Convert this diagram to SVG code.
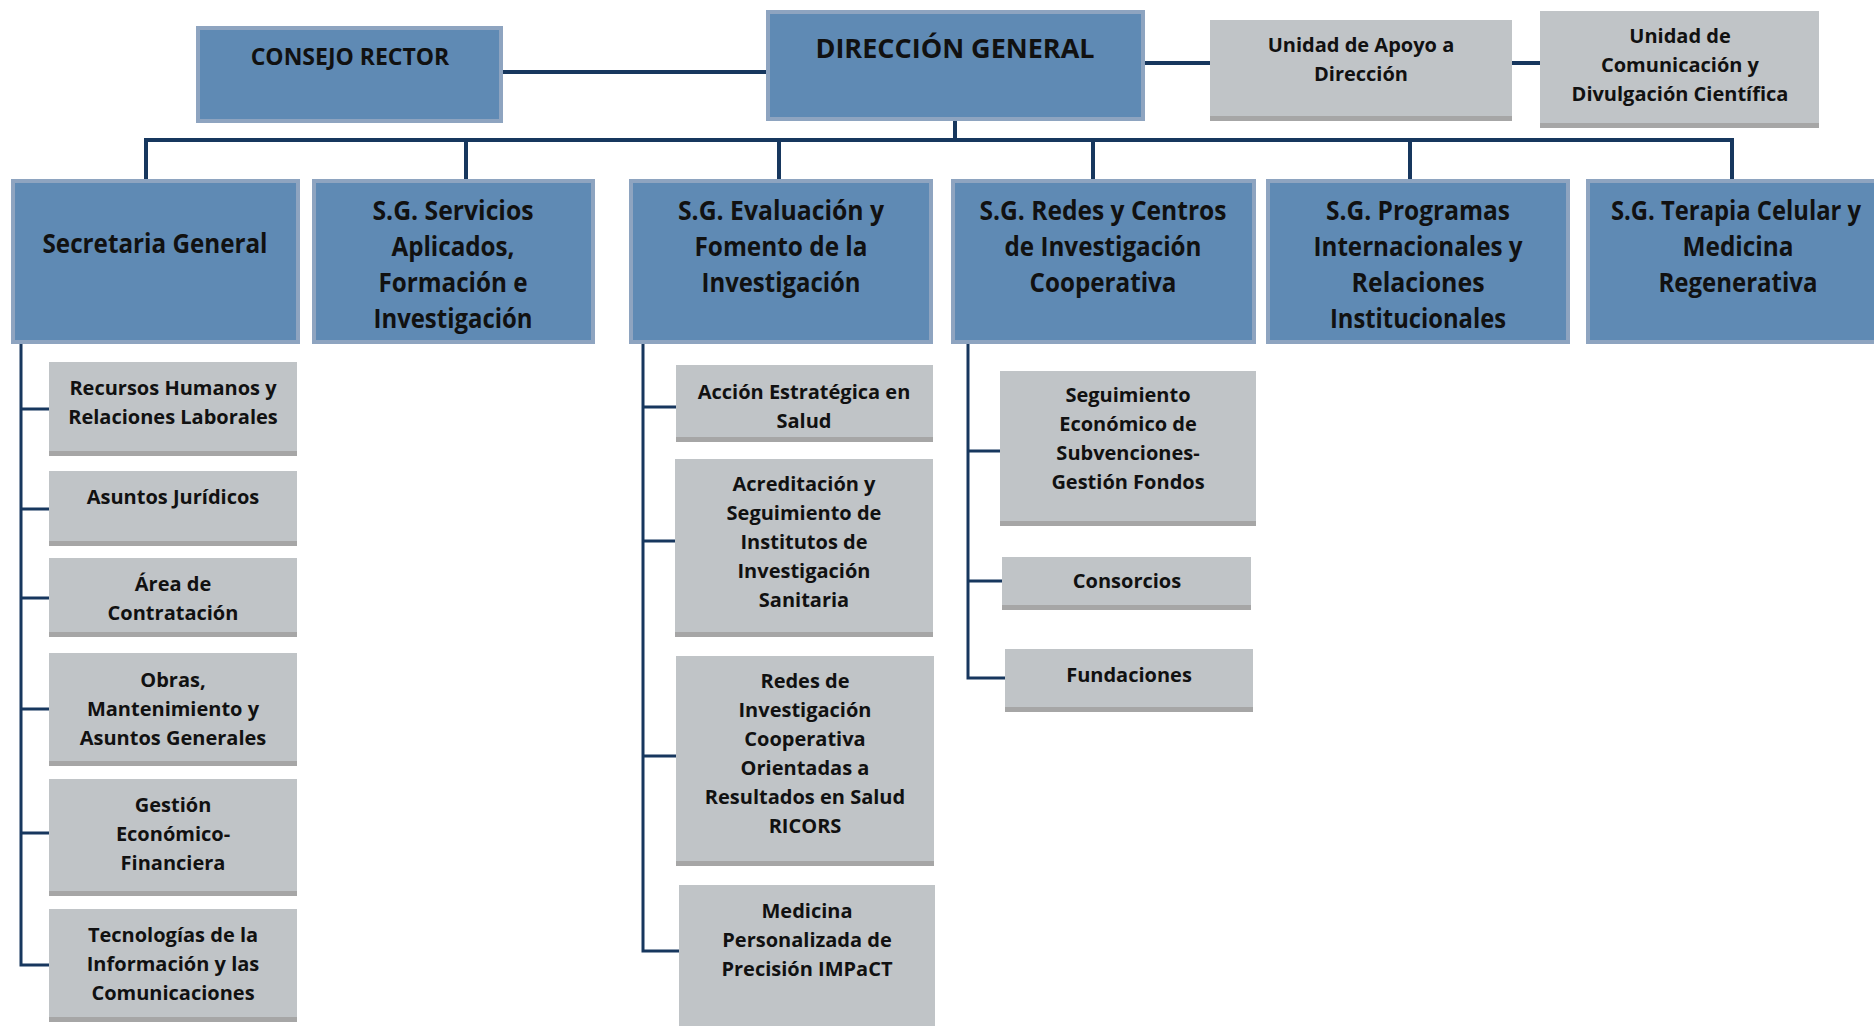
<svg xmlns="http://www.w3.org/2000/svg" width="1874" height="1026" viewBox="0 0 1874 1026">
<style>
.b{fill:#5f8ab4;stroke:#8ea4c0;stroke-width:4}
.g{fill:#c0c4c7}
.gs{fill:#a6a6a6}
.ln{stroke:#17375e;stroke-width:4;fill:none}
.ls{stroke:#17375e;stroke-width:3;fill:none}
text{font-family:"Open Sans","Liberation Sans",sans-serif;font-weight:700;fill:#111;text-anchor:middle}
.h{font-size:26.5px}
.s{font-size:20px}
</style>
<rect width="1874" height="1026" fill="#fff"/>
<g id="connectors">
<path class="ln" d="M503 72H766"/>
<path class="ln" d="M1145 63H1210"/>
<path class="ln" d="M1512 63H1540"/>
<path class="ln" d="M955 121V140"/>
<path class="ln" d="M146 179V140H1732V179"/>
<path class="ln" d="M466 140V179"/>
<path class="ln" d="M779 140V179"/>
<path class="ln" d="M1093 140V179"/>
<path class="ln" d="M1410 140V179"/>
<path class="ls" d="M21 344V965H49"/>
<path class="ls" d="M21 409H49M21 509H49M21 598H49M21 709H49M21 833H49"/>
<path class="ls" d="M643 344V951H679"/>
<path class="ls" d="M643 407H676M643 541H675M643 756H676"/>
<path class="ls" d="M968 344V678H1005"/>
<path class="ls" d="M968 451H1000M968 581H1002"/>
</g>
<g id="consejo-rector"><rect class="b" x="198" y="28" width="303" height="93"/><text x="350" y="65" style="font-size:23px">CONSEJO RECTOR</text></g>
<g id="direccion-general"><rect class="b" x="768" y="12" width="375" height="107"/><text x="955" y="58" style="font-size:27px">DIRECCIÓN GENERAL</text></g>
<g id="unidad-apoyo"><rect class="g" x="1210" y="20" width="302" height="101"/><rect class="gs" x="1210" y="116" width="302" height="5"/><text class="s" x="1361" y="52">Unidad de Apoyo a</text><text class="s" x="1361" y="81">Dirección</text></g>
<g id="unidad-comunicacion"><rect class="g" x="1540" y="11" width="279" height="117"/><rect class="gs" x="1540" y="123" width="279" height="5"/><text class="s" x="1680" y="43">Unidad de</text><text class="s" x="1680" y="72">Comunicación y</text><text class="s" x="1680" y="101">Divulgación Científica</text></g>
<g id="secretaria-general"><rect class="b" x="13" y="181" width="285" height="161"/><text class="h" x="155" y="253" textLength="225" lengthAdjust="spacingAndGlyphs">Secretaria General</text></g>
<g id="sg-servicios"><rect class="b" x="314" y="181" width="279" height="161"/><text class="h" x="453" y="220" textLength="161" lengthAdjust="spacingAndGlyphs">S.G. Servicios</text><text class="h" x="453" y="256" textLength="123" lengthAdjust="spacingAndGlyphs">Aplicados,</text><text class="h" x="453" y="292" textLength="149" lengthAdjust="spacingAndGlyphs">Formación e</text><text class="h" x="453" y="328" textLength="159" lengthAdjust="spacingAndGlyphs">Investigación</text></g>
<g id="sg-evaluacion"><rect class="b" x="631" y="181" width="300" height="161"/><text class="h" x="781" y="220" textLength="206" lengthAdjust="spacingAndGlyphs">S.G. Evaluación y</text><text class="h" x="781" y="256" textLength="173" lengthAdjust="spacingAndGlyphs">Fomento de la</text><text class="h" x="781" y="292" textLength="159" lengthAdjust="spacingAndGlyphs">Investigación</text></g>
<g id="sg-redes"><rect class="b" x="953" y="181" width="301" height="161"/><text class="h" x="1103" y="220" textLength="247" lengthAdjust="spacingAndGlyphs">S.G. Redes y Centros</text><text class="h" x="1103" y="256" textLength="197" lengthAdjust="spacingAndGlyphs">de Investigación</text><text class="h" x="1103" y="292" textLength="147" lengthAdjust="spacingAndGlyphs">Cooperativa</text></g>
<g id="sg-programas"><rect class="b" x="1268" y="181" width="300" height="161"/><text class="h" x="1418" y="220" textLength="184" lengthAdjust="spacingAndGlyphs">S.G. Programas</text><text class="h" x="1418" y="256" textLength="209" lengthAdjust="spacingAndGlyphs">Internacionales y</text><text class="h" x="1418" y="292" textLength="133" lengthAdjust="spacingAndGlyphs">Relaciones</text><text class="h" x="1418" y="328" textLength="176" lengthAdjust="spacingAndGlyphs">Institucionales</text></g>
<g id="sg-terapia"><rect class="b" x="1588" y="181" width="300" height="161"/><text class="h" x="1736" y="220" textLength="250" lengthAdjust="spacingAndGlyphs">S.G. Terapia Celular y</text><text class="h" x="1738" y="256" textLength="111" lengthAdjust="spacingAndGlyphs">Medicina</text><text class="h" x="1738" y="292" textLength="159" lengthAdjust="spacingAndGlyphs">Regenerativa</text></g>
<g id="rrhh"><rect class="g" x="49" y="362" width="248" height="94"/><rect class="gs" x="49" y="451" width="248" height="5"/><text class="s" x="173" y="395">Recursos Humanos y</text><text class="s" x="173" y="424">Relaciones Laborales</text></g>
<g id="juridicos"><rect class="g" x="49" y="471" width="248" height="75"/><rect class="gs" x="49" y="541" width="248" height="5"/><text class="s" x="173" y="504">Asuntos Jurídicos</text></g>
<g id="contratacion"><rect class="g" x="49" y="558" width="248" height="79"/><rect class="gs" x="49" y="632" width="248" height="5"/><text class="s" x="173" y="591">Área de</text><text class="s" x="173" y="620">Contratación</text></g>
<g id="obras"><rect class="g" x="49" y="653" width="248" height="113"/><rect class="gs" x="49" y="761" width="248" height="5"/><text class="s" x="173" y="687">Obras,</text><text class="s" x="173" y="716">Mantenimiento y</text><text class="s" x="173" y="745">Asuntos Generales</text></g>
<g id="gestion-ef"><rect class="g" x="49" y="779" width="248" height="117"/><rect class="gs" x="49" y="891" width="248" height="5"/><text class="s" x="173" y="812">Gestión</text><text class="s" x="173" y="841">Económico-</text><text class="s" x="173" y="870">Financiera</text></g>
<g id="tic"><rect class="g" x="49" y="909" width="248" height="113"/><rect class="gs" x="49" y="1017" width="248" height="5"/><text class="s" x="173" y="942">Tecnologías de la</text><text class="s" x="173" y="971">Información y las</text><text class="s" x="173" y="1000">Comunicaciones</text></g>
<g id="accion-estrategica"><rect class="g" x="676" y="365" width="257" height="77"/><rect class="gs" x="676" y="437" width="257" height="5"/><text class="s" x="804" y="399">Acción Estratégica en</text><text class="s" x="804" y="428">Salud</text></g>
<g id="acreditacion"><rect class="g" x="675" y="459" width="258" height="178"/><rect class="gs" x="675" y="632" width="258" height="5"/><text class="s" x="804" y="491">Acreditación y</text><text class="s" x="804" y="520">Seguimiento de</text><text class="s" x="804" y="549">Institutos de</text><text class="s" x="804" y="578">Investigación</text><text class="s" x="804" y="607">Sanitaria</text></g>
<g id="ricors"><rect class="g" x="676" y="656" width="258" height="210"/><rect class="gs" x="676" y="861" width="258" height="5"/><text class="s" x="805" y="688">Redes de</text><text class="s" x="805" y="717">Investigación</text><text class="s" x="805" y="746">Cooperativa</text><text class="s" x="805" y="775">Orientadas a</text><text class="s" x="805" y="804">Resultados en Salud</text><text class="s" x="805" y="833">RICORS</text></g>
<g id="impact"><rect class="g" x="679" y="885" width="256" height="141"/><text class="s" x="807" y="918">Medicina</text><text class="s" x="807" y="947">Personalizada de</text><text class="s" x="807" y="976">Precisión IMPaCT</text></g>
<g id="seguimiento"><rect class="g" x="1000" y="371" width="256" height="155"/><rect class="gs" x="1000" y="521" width="256" height="5"/><text class="s" x="1128" y="402">Seguimiento</text><text class="s" x="1128" y="431">Económico de</text><text class="s" x="1128" y="460">Subvenciones-</text><text class="s" x="1128" y="489">Gestión Fondos</text></g>
<g id="consorcios"><rect class="g" x="1002" y="557" width="249" height="53"/><rect class="gs" x="1002" y="605" width="249" height="5"/><text class="s" x="1127" y="588">Consorcios</text></g>
<g id="fundaciones"><rect class="g" x="1005" y="649" width="248" height="63"/><rect class="gs" x="1005" y="707" width="248" height="5"/><text class="s" x="1129" y="682">Fundaciones</text></g>
</svg>
